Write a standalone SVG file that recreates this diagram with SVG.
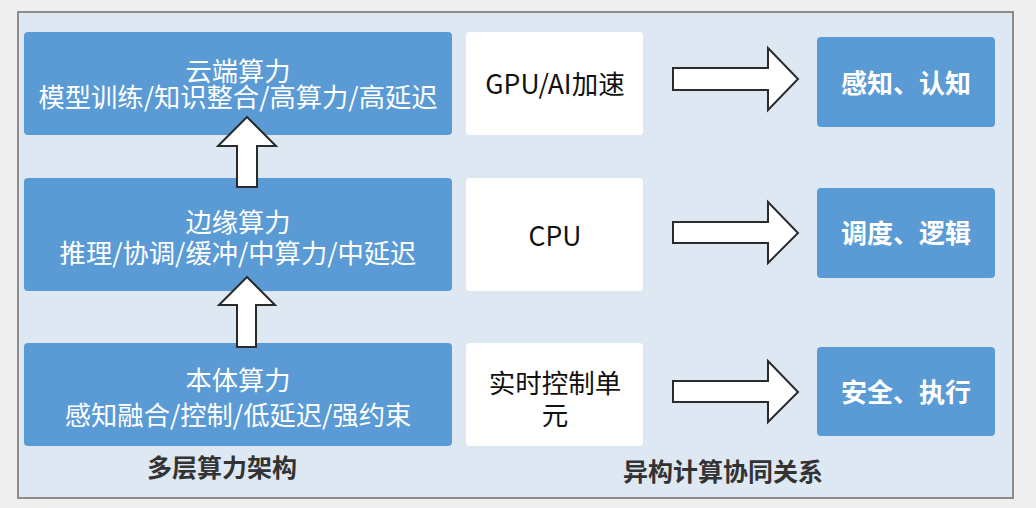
<svg xmlns="http://www.w3.org/2000/svg" width="1036" height="508" viewBox="0 0 1036 508">
<style>
.cjk{font-family:"Noto Sans CJK SC","Noto Sans",sans-serif;text-anchor:middle}
.blue{fill:#5b9bd5}
.white{fill:#ffffff}
.wt{fill:#ffffff;font-size:26.3px}
.bk{fill:#111111;font-size:26.5px}
.bold{fill:#ffffff;font-size:26px;font-weight:bold}
.lab{fill:#333333;font-size:25px;font-weight:bold}
.arr{fill:#ffffff;stroke:#2b2b2b;stroke-width:2;stroke-linejoin:miter}
</style>
<rect x="0" y="0" width="1036" height="508" fill="#efefef"/>
<rect id="panel" x="18" y="12" width="995" height="486" fill="#dee8f3" stroke="#8c8c8c" stroke-width="2"/>

<g id="cloud">
<rect class="blue" x="24" y="32" width="428" height="103" rx="4"/>
<text class="cjk wt" x="238" y="81">云端算力</text>
<text class="cjk wt" x="238" y="107">模型训练/知识整合/高算力/高延迟</text>
</g>
<g id="edge">
<rect class="blue" x="24" y="178" width="428" height="113" rx="4"/>
<text class="cjk wt" x="238" y="232">边缘算力</text>
<text class="cjk wt" x="238" y="263">推理/协调/缓冲/中算力/中延迟</text>
</g>
<g id="body">
<rect class="blue" x="24" y="343" width="428" height="103" rx="4"/>
<text class="cjk wt" x="238" y="390">本体算力</text>
<text class="cjk wt" x="238" y="425">感知融合/控制/低延迟/强约束</text>
</g>

<g id="gpu">
<rect class="white" x="466" y="32" width="177" height="103" rx="4"/>
<text class="cjk bk" x="555" y="93.5">GPU/AI加速</text>
</g>
<g id="cpu">
<rect class="white" x="466" y="178" width="177" height="113" rx="4"/>
<text class="cjk bk" x="555" y="246">CPU</text>
</g>
<g id="rtu">
<rect class="white" x="466" y="343" width="177" height="103" rx="4"/>
<text class="cjk bk" x="555" y="393">实时控制单</text>
<text class="cjk bk" x="555" y="425">元</text>
</g>

<g id="perception">
<rect class="blue" x="817" y="37" width="178" height="90" rx="4"/>
<text class="cjk bold" x="906" y="92.5">感知、认知</text>
</g>
<g id="scheduling">
<rect class="blue" x="817" y="188" width="178" height="90" rx="4"/>
<text class="cjk bold" x="906" y="242.5">调度、逻辑</text>
</g>
<g id="safety">
<rect class="blue" x="817" y="347" width="178" height="89" rx="4"/>
<text class="cjk bold" x="906" y="401.5">安全、执行</text>
</g>

<g id="connectors">
<polygon class="arr" points="247,117 276,146 257,146 257,187 237,187 237,146 218,146"/>
<polygon class="arr" points="247,277 275,305 256,305 256,347 237,347 237,305 219,305"/>
<polygon class="arr" points="673,68 768,68 768,48 798,79 768,110 768,90 673,90"/>
<polygon class="arr" points="673,222 768,222 768,202 798,233 768,263 768,243 673,243"/>
<polygon class="arr" points="673,381 768,381 768,361 798,392 768,422 768,402 673,402"/>
</g>

<g id="labels">
<text class="cjk lab" x="222" y="477">多层算力架构</text>
<text class="cjk lab" x="723" y="481">异构计算协同关系</text>
</g>
</svg>
